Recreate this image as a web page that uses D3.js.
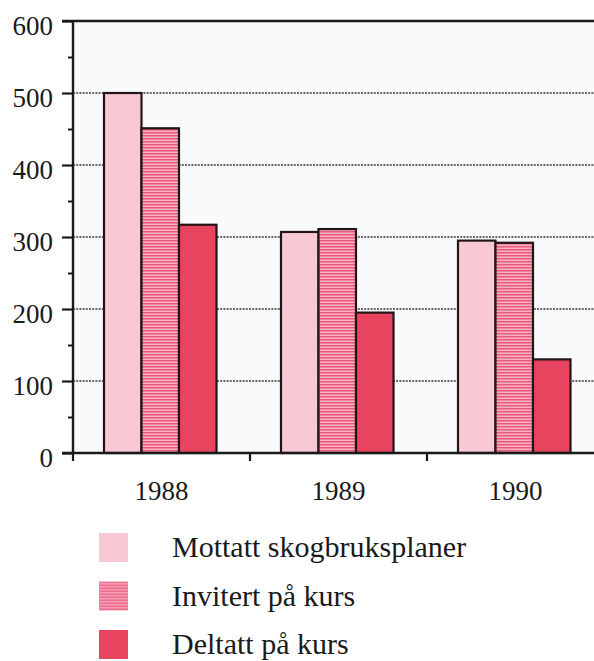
<!DOCTYPE html>
<html>
<head>
<meta charset="utf-8">
<script src="https://cdn.jsdelivr.net/npm/d3@7"></script>
<style>
  body { margin: 0; background: #fff; }
</style>
</head>
<body>
<svg id="chart" width="594" height="661"></svg>
<script>
// Data
const years = ["1988", "1989", "1990"];
const seriesNames = ["Mottatt skogbruksplaner", "Invitert på kurs", "Deltatt på kurs"];
const mottatt = [500, 307, 295];
const invitert = [451, 311, 292];
const deltatt = [317, 195, 130];
const yTicks = [0, 100, 200, 300, 400, 500, 600];
const yMinorTicks = [50, 150, 250, 350, 450, 550];

const seriesValues = [mottatt, invitert, deltatt];
const fills = ["#f8c8d4", "url(#stripes)", "#e8445f"];
const serif = '"Liberation Serif", "Times New Roman", serif';

const svg = d3.select("#chart");
const margin = { left: 73, top: 21, bottom: 208 };
const height = 661 - margin.top - margin.bottom;
const bandW = 177;

// striped pattern for the middle series
const defs = svg.append("defs");
const pat = defs.append("pattern")
  .attr("id", "stripes")
  .attr("patternUnits", "userSpaceOnUse")
  .attr("width", 6).attr("height", 3);
pat.append("rect").attr("width", 6).attr("height", 3).attr("fill", "#f7b3c4");
pat.append("rect").attr("width", 6).attr("height", 1.5).attr("fill", "#e9587c");

const g = svg.append("g").attr("transform", `translate(${margin.left},${margin.top})`);
const width = bandW * years.length;

const y = d3.scaleLinear().domain([0, 600]).range([height, 0]);
const x0 = d3.scaleBand().domain(years).range([0, width]).padding(0);
const x1 = d3.scaleBand().domain(d3.range(3)).range([31, 31 + 112.5]).padding(0);

// faint plot background
g.append("rect")
  .attr("width", width).attr("height", height)
  .attr("fill", "#f8fafc");

// dotted gridlines
g.selectAll(".grid")
  .data(yTicks.filter(d => d > 0 && d < 600))
  .join("line")
  .attr("class", "grid")
  .attr("x1", 0).attr("x2", width)
  .attr("y1", d => y(d)).attr("y2", d => y(d))
  .attr("stroke", "#3a3a3a")
  .attr("stroke-width", 1.6)
  .attr("stroke-dasharray", "2,1.2");

// bars
const groups = g.selectAll(".year")
  .data(years)
  .join("g")
  .attr("transform", d => `translate(${x0(d)},0)`);

groups.selectAll("rect")
  .data((d, i) => seriesValues.map((s, j) => ({ s: j, v: s[i] })))
  .join("rect")
  .attr("x", d => x1(d.s))
  .attr("y", d => y(d.v))
  .attr("width", x1.bandwidth())
  .attr("height", d => height - y(d.v))
  .attr("fill", d => fills[d.s])
  .attr("stroke", "#231416")
  .attr("stroke-width", 2.2);

// top frame line
g.append("line")
  .attr("x1", -11).attr("x2", width)
  .attr("y1", 0).attr("y2", 0)
  .attr("stroke", "#1a1a1a").attr("stroke-width", 2.4);

// y axis
const yAxis = g.append("g")
  .call(d3.axisLeft(y).tickValues(yTicks).tickSize(11).tickPadding(9).tickFormat(d3.format("d")));
yAxis.select(".domain").attr("stroke", "#1a1a1a").attr("stroke-width", 2.4)
  .attr("d", `M0,${height}V0`);
yAxis.selectAll(".tick line").attr("stroke", "#1a1a1a").attr("stroke-width", 2.2);
yAxis.selectAll(".tick text")
  .attr("dy", "0.5em")
  .style("font-family", serif).style("font-size", "27px").attr("fill", "#1a1a1a");

// minor ticks
g.append("g")
  .call(d3.axisLeft(y).tickValues(yMinorTicks).tickSize(5).tickFormat(""))
  .call(a => a.select(".domain").remove())
  .selectAll(".tick line").attr("stroke", "#1a1a1a").attr("stroke-width", 2);

// x axis
const xAxis = g.append("g")
  .attr("transform", `translate(0,${height})`)
  .call(d3.axisBottom(x0).tickSize(0));
xAxis.select(".domain").attr("stroke", "#1a1a1a").attr("stroke-width", 2.4)
  .attr("d", `M-11,0H${width}`);
xAxis.selectAll(".tick text")
  .attr("y", 47).attr("dy", 0)
  .style("font-family", serif).style("font-size", "27px").attr("fill", "#1a1a1a");

// group divider ticks below axis
g.selectAll(".xdiv")
  .data(years)
  .join("line")
  .attr("x1", d => x0(d)).attr("x2", d => x0(d))
  .attr("y1", height).attr("y2", height + 8)
  .attr("stroke", "#1a1a1a").attr("stroke-width", 2.2);

// legend
const legend = svg.append("g").attr("transform", "translate(99,533)");
const li = legend.selectAll("g")
  .data(seriesNames)
  .join("g")
  .attr("transform", (d, i) => `translate(0,${i * 48.5})`);
li.append("rect")
  .attr("width", 29).attr("height", 29)
  .attr("fill", (d, i) => fills[i]);
li.append("text")
  .attr("x", 73).attr("y", 24)
  .style("font-family", serif)
  .style("font-size", "30px")
  .attr("fill", "#1a1a1a")
  .text(d => d);
</script>
</body>
</html>
